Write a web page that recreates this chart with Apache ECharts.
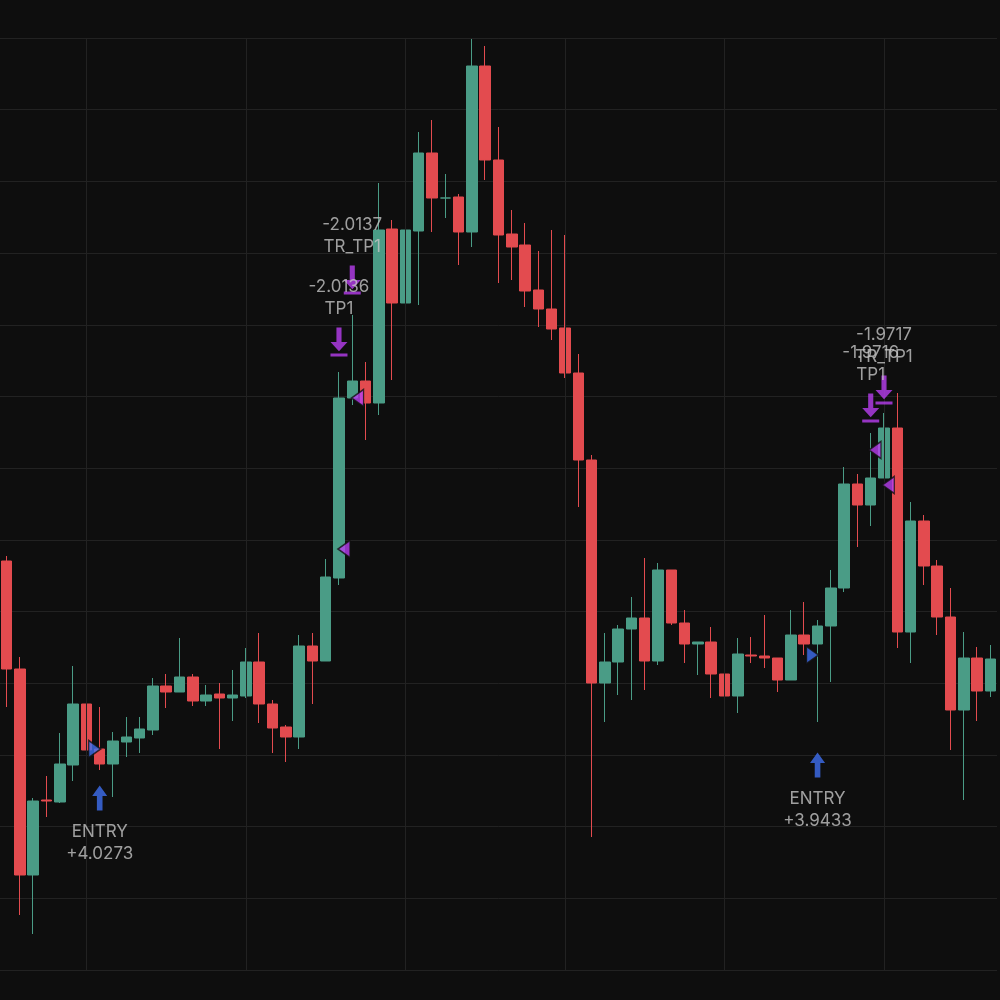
<!DOCTYPE html>
<html>
<head>
<meta charset="UTF-8">
<script src="https://cdn.jsdelivr.net/npm/echarts@6/dist/echarts.min.js"></script>
<style>html,body{margin:0;height:100%;background:#0e0e0e;}#main{width:1000px;height:1000px;}</style>
</head>
<body>
<div id="main"></div>
<script>
// candles: [open, close, low, high], price units
var candles = [
 [409,301,263,414],[301,95,55,313],[95,169,36,172],[170,169,153,194],[168,206,167,237],
 [205,266,189,304],[266,220,220,282],[221,206,200,263],[206,229,173,238],[228,233,213,253],
 [232,241,217,253],[240,284,235,292],[284,278,262,296],[278,293,278,332],[293,269,264,296],
 [269,275,264,285],[276,272,221,287],[272,275,249,300],[274,308,272,322],[308,266,247,337],
 [266,242,217,270],[243,233,208,245],[233,324,221,335],[324,309,266,337],[309,393,309,411],
 [392,572,385,598],[572,589,565,655],[589,567,530,608],[567,740,555,787],[741,667,590,750],
 [667,740,658,802],[739,817,665,838],[817,772,738,850],[772,772,752,796],[773,738,705,776],
 [738,904,723,931],[904,810,790,924],[810,735,687,843],[736,723,690,760],[725,679,663,747],
 [680,661,643,719],[661,641,630,740],[642,597,592,735],[597,510,463,616],[510,287,133,515],
 [287,308,248,337],[308,341,275,345],[341,352,270,373],[352,309,280,412],[309,400,305,407],
 [400,347,345,400],[347,326,307,360],[326,328,295,328],[328,296,272,343],[296,274,242,308],
 [274,316,257,332],[315,314,307,333],[314,312,302,355],[312,290,278,312],[290,335,290,360],
 [335,326,315,368],[326,344,248,350],[344,382,288,400],[382,486,378,503],[486,465,423,496],
 [465,492,444,537],[492,542,492,557],[542,338,322,577],[338,449,307,468],[449,404,385,455],
 [404,353,335,410],[353,260,220,382],[260,312,170,338],[312,279,249,323],[279,311,273,325]
];
var gridLineIdx = [6, 18, 30, 42, 54, 66];
// markers: [candle index, price, x offset px]
var entryTris = [[7, 221, -5], [61, 315, -5]];
var exitTris = [[25, 421, 5], [27, 572, -8], [66, 520, -9], [67, 485, -9]];
var entryArrows = [[7, 172, 0, 'ENTRY\n+4.0273'], [61, 205, 0, 'ENTRY\n+3.9433']];
var tpArrows = [[25, 628, 0, '-2.0136\nTP1'], [26, 690, 0, '-2.0137\nTR_TP1'],
                [65, 562, 0, '-1.9716\nTP1'], [66, 580, 0, '-1.9717\nTR_TP1']];

var cats = candles.map(function (c, i) { return i; });
var UP = 'path://M4,0 L8,5 L5.5,5 L5.5,12 L2.5,12 L2.5,5 L0,5 Z';
var DOWN = 'path://M2.8,0 L5.2,0 L5.2,7 L8,7 L4,11.5 L0,7 L2.8,7 Z M0,12.5 L8,12.5 L8,14 L0,14 Z';
var lbl = {color: '#c4c4c4', fontSize: 17, lineHeight: 22, fontFamily: 'Inter, sans-serif'};

function pts(arr, extra) {
  return arr.map(function (m) {
    var d = {value: [m[0], m[1]], symbolOffset: [m[2], 0]};
    if (m[3]) d.label = Object.assign({show: true, formatter: m[3]}, lbl, extra);
    return d;
  });
}

var chart = echarts.init(document.getElementById('main'));
chart.setOption({
  backgroundColor: '#0e0e0e',
  animation: false,
  grid: {left: -3, right: 3, top: 38, bottom: 30},
  xAxis: {type: 'category', data: cats, show: false},
  yAxis: {type: 'value', min: 0, max: 932, interval: 71.69,
    axisLabel: {show: false}, axisLine: {show: false}, axisTick: {show: false},
    splitLine: {lineStyle: {color: '#222222', width: 1}}},
  series: [
    {type: 'candlestick', data: candles, barWidth: 11,
     itemStyle: {color: '#4a9c86', color0: '#e34b4f', borderColor: '#4a9c86', borderColor0: '#e34b4f', borderWidth: 1},
     markLine: {silent: true, symbol: 'none', label: {show: false},
       lineStyle: {color: '#222222', width: 1, type: 'solid'},
       data: gridLineIdx.map(function (i) { return {xAxis: i}; })}},
    {type: 'scatter', data: pts(entryTris), symbol: 'triangle', symbolSize: [17, 12], symbolRotate: -90,
     itemStyle: {color: '#3f6ff0', borderColor: '#111', borderWidth: 1.5}, z: 5},
    {type: 'scatter', data: pts(exitTris), symbol: 'triangle', symbolSize: [17, 12], symbolRotate: 90,
     itemStyle: {color: '#b83ef0', borderColor: '#111', borderWidth: 1.5}, z: 5},
    {type: 'scatter', data: pts(entryArrows, {position: 'bottom', distance: 10}), symbol: UP, symbolSize: [15, 25],
     itemStyle: {color: '#3f6ff0'}, z: 5},
    {type: 'scatter', data: pts(tpArrows, {position: 'top', distance: 8}), symbol: DOWN, symbolSize: [17, 29],
     itemStyle: {color: '#b83ef0'}, z: 5}
  ]
});
</script>
</body>
</html>
